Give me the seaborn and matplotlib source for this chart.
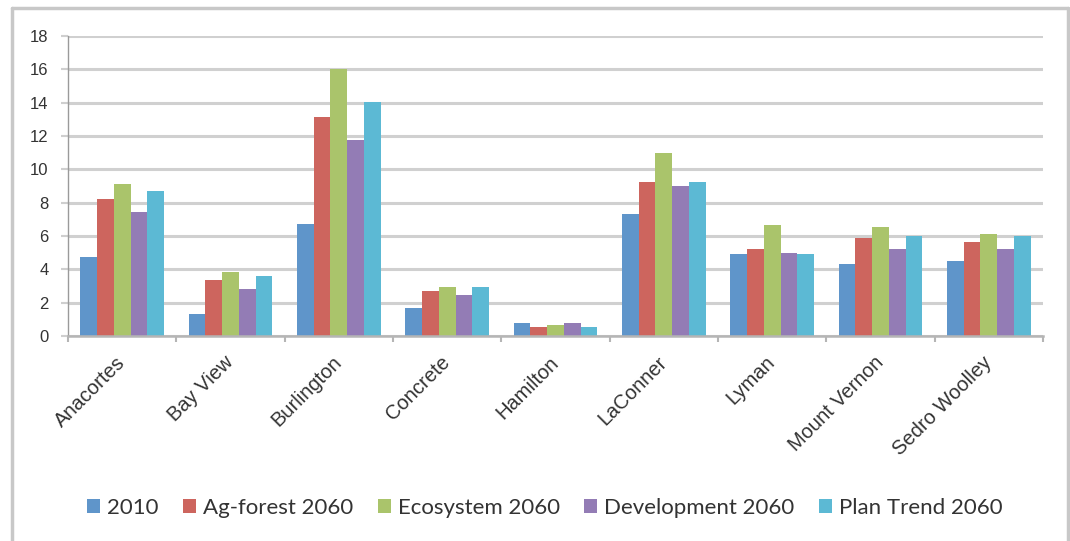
import numpy as np
import pandas as pd
import seaborn as sns
import matplotlib.pyplot as plt
from matplotlib.lines import Line2D
from matplotlib.ticker import FixedLocator

cities = ["Anacortes", "Bay View", "Burlington", "Concrete", "Hamilton",
          "LaConner", "Lyman", "Mount Vernon", "Sedro Woolley"]
series_names = ["2010", "Ag-forest 2060", "Ecosystem 2060", "Development 2060", "Plan Trend 2060"]
v2010 = [4.75, 1.35, 6.7, 1.7, 0.8, 7.3, 4.9, 4.35, 4.5]
v_agforest = [8.2, 3.35, 13.15, 2.72, 0.56, 9.22, 5.25, 5.9, 5.65]
v_ecosystem = [9.1, 3.85, 16.0, 2.95, 0.68, 11.0, 6.65, 6.55, 6.15]
v_development = [7.45, 2.85, 11.75, 2.46, 0.8, 9.0, 5.0, 5.25, 5.25]
v_plantrend = [8.7, 3.6, 14.05, 2.95, 0.56, 9.22, 4.9, 6.0, 6.0]
yticks = [0, 2, 4, 6, 8, 10, 12, 14, 16, 18]
colors = ["#5f95ca", "#cd655e", "#aac46b", "#937cb5", "#5cb9d4"]

all_vals = [v2010, v_agforest, v_ecosystem, v_development, v_plantrend]
df = pd.DataFrame({
    "city": np.tile(cities, len(series_names)),
    "series": np.repeat(series_names, len(cities)),
    "value": np.concatenate(all_vals),
})

sns.set_style("white")
plt.rcParams["font.family"] = ["Liberation Sans", "DejaVu Sans"]

fig = plt.figure(figsize=(10.7, 5.41), dpi=100)
ax = fig.add_axes([68 / 1070, 1 - 336 / 541, (1043 - 68) / 1070, 300 / 541])

sns.barplot(data=df, x="city", y="value", hue="series", order=cities,
            hue_order=series_names, palette=colors, saturation=1,
            width=0.77, gap=0, linewidth=0, ax=ax, legend=False)

ax.set_xlim(-0.5, len(cities) - 0.5)
ax.set_ylim(0, 18)
ax.set_yticks(yticks)
ax.set_yticklabels([str(t) for t in yticks], fontsize=12, color="#333333")
ax.yaxis.grid(True, color="#d0d0d0", linewidth=2.2)
ax.set_axisbelow(True)
ax.tick_params(axis="y", length=5, width=1.5, color="#cfcfcf", pad=9, left=True)

ax.set_xlabel("")
ax.set_ylabel("")
ax.set_xticks(range(len(cities)))
ax.set_xticklabels(cities, rotation=45, ha="right", va="center", rotation_mode="anchor",
                   fontsize=14.5, color="#333333")
ax.tick_params(axis="x", which="major", length=0, pad=17)
ax.xaxis.set_minor_locator(FixedLocator(np.arange(-0.5, len(cities), 1.0)))
ax.tick_params(axis="x", which="minor", length=4, width=1.5, color="#b5b5b5", bottom=True)

for s in ["top", "right"]:
    ax.spines[s].set_visible(False)
ax.spines["left"].set_color("#9a9a9a")
ax.spines["left"].set_linewidth(1.0)
ax.spines["bottom"].set_color("#b5b5b5")
ax.spines["bottom"].set_linewidth(1.8)

handles = [plt.Rectangle((0, 0), 1, 1, facecolor=c, edgecolor="none") for c in colors]
fig.legend(handles, series_names, loc="center", bbox_to_anchor=(0.509, 1 - 508 / 541),
           ncol=5, frameon=False, prop={"family": ["Lato", "DejaVu Sans"], "size": 16},
           handlelength=0.6, handleheight=0.6,
           handletextpad=0.3, columnspacing=1.1, labelcolor="#333333")

# outer chart border
bc = "#c8c8c8"
fig.add_artist(Line2D([12 / 1070, 12 / 1070], [-0.01, 1 - 8 / 541], transform=fig.transFigure, color=bc, lw=2.5))
fig.add_artist(Line2D([12 / 1070, 1068 / 1070], [1 - 8 / 541, 1 - 8 / 541], transform=fig.transFigure, color=bc, lw=2.5))
fig.add_artist(Line2D([1068 / 1070, 1068 / 1070], [-0.01, 1 - 8 / 541], transform=fig.transFigure, color=bc, lw=2.5))

fig.savefig("out.png", dpi=100, facecolor="white")
